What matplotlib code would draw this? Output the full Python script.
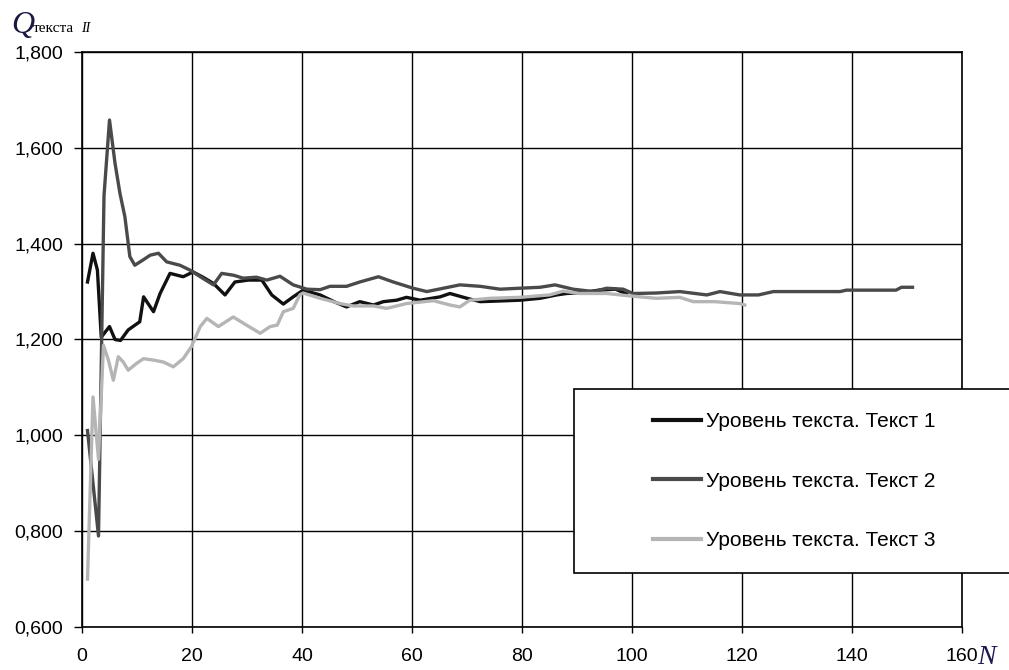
import matplotlib

matplotlib.use("Agg")
import matplotlib.pyplot as plt
from matplotlib.patches import Rectangle
from matplotlib.ticker import FuncFormatter

# Series
n_text1 = [1, 2, 2.8, 3.5, 5, 6, 7, 8.4, 10.5, 11.2,
           13, 14.2, 16, 18.4, 20.2, 22, 23.9, 26, 27.8, 30.2,
           32.7, 34.5, 36.6, 38.4, 40.2, 43.3, 46, 48.1, 50.5, 53,
           54.8, 57.2, 59, 61.5, 65.1, 66.9, 70, 72.4, 75, 79.6,
           83.3, 86.3, 88.1, 91, 94, 97, 99]
q_text1 = [1.32, 1.38, 1.345, 1.205, 1.227, 1.200, 1.198, 1.22, 1.237, 1.289,
           1.258, 1.296, 1.338, 1.331, 1.341, 1.330, 1.317, 1.293, 1.320, 1.324,
           1.324, 1.293, 1.274, 1.289, 1.303, 1.293, 1.278, 1.268, 1.279, 1.272,
           1.279, 1.282, 1.288, 1.282, 1.289, 1.296, 1.286, 1.279, 1.280, 1.282,
           1.286, 1.293, 1.296, 1.298, 1.303, 1.305, 1.295]

n_text2 = [1, 2, 3, 4, 5, 6, 6.9, 7.8, 8.7, 9.6,
           11.1, 12.4, 13.9, 15.4, 17.8, 19.6, 21.5, 23.9, 25.4, 27.6,
           29.3, 31.7, 33.6, 36, 38.4, 40.9, 43.3, 45.1, 48.1, 50.5,
           53.9, 56.6, 60.2, 62.7, 65.7, 68.7, 72.4, 76, 79.6, 83.3,
           86, 89.3, 93, 95.4, 98.4, 100.2, 104.4, 108.7, 113.6, 116,
           119.6, 123, 125.7, 137.8, 139, 148, 149, 151]
q_text2 = [1.01, 0.90, 0.79, 1.50, 1.658, 1.568, 1.505, 1.456, 1.373, 1.355,
           1.366, 1.376, 1.380, 1.362, 1.355, 1.345, 1.331, 1.314, 1.338, 1.334,
           1.328, 1.330, 1.324, 1.332, 1.314, 1.305, 1.304, 1.311, 1.311, 1.320,
           1.331, 1.320, 1.307, 1.300, 1.307, 1.314, 1.311, 1.305, 1.307, 1.309,
           1.314, 1.305, 1.300, 1.307, 1.305, 1.296, 1.297, 1.300, 1.293, 1.300,
           1.293, 1.293, 1.300, 1.300, 1.303, 1.303, 1.309, 1.309]

n_text3 = [1, 2, 3, 3.9, 4.8, 5.7, 6.6, 7.5, 8.4, 9.9,
           11.2, 13, 14.8, 16.6, 18.4, 19.9, 21.5, 22.7, 24.8, 27.5,
           29.9, 32.4, 34.2, 35.5, 36.6, 38.4, 39.6, 40.2, 43.3, 46.9,
           49.3, 53, 55.4, 59, 63.9, 66.9, 68.7, 70.5, 74.2, 79.6,
           85, 87.5, 90.5, 95.4, 99.6, 104.4, 108.7, 111.1, 115, 119.6,
           120.5]
q_text3 = [0.70, 1.08, 0.95, 1.188, 1.157, 1.115, 1.164, 1.153, 1.136, 1.150,
           1.160, 1.157, 1.153, 1.143, 1.160, 1.185, 1.227, 1.244, 1.227, 1.247,
           1.230, 1.213, 1.227, 1.230, 1.258, 1.265, 1.293, 1.297, 1.286, 1.275,
           1.270, 1.270, 1.265, 1.275, 1.281, 1.272, 1.268, 1.282, 1.286, 1.288,
           1.293, 1.301, 1.296, 1.296, 1.291, 1.286, 1.288, 1.279, 1.279, 1.275,
           1.272]

labels = ["Уровень текста. Текст 1", "Уровень текста. Текст 2", "Уровень текста. Текст 3"]
colors = ["#111111", "#4a4a4a", "#b5b5b5"]

x_ticks = [0, 20, 40, 60, 80, 100, 120, 140, 160]
y_ticks = [0.6, 0.8, 1.0, 1.2, 1.4, 1.6, 1.8]

plt.rcParams.update({
    "font.family": "Liberation Sans",
    "font.size": 14,
})

fig = plt.figure(figsize=(10.09, 6.70), dpi=100)
W, H = 1009, 670
ax = fig.add_axes([82 / W, 1 - 627 / H, (962 - 82) / W, (627 - 52) / H])

series = [(n_text1, q_text1), (n_text2, q_text2), (n_text3, q_text3)]
handles = []
for (xs, ys), lab, col in zip(series, labels, colors):
    (ln,) = ax.plot(xs, ys, color=col, linewidth=2.4, label=lab,
                    solid_joinstyle="round", zorder=3)
    handles.append(ln)

ax.set_xlim(0, 160)
ax.set_ylim(0.6, 1.8)
ax.set_xticks(x_ticks)
ax.set_yticks(y_ticks)
ax.yaxis.set_major_formatter(FuncFormatter(lambda v, _: f"{v:.3f}".replace(".", ",")))
ax.grid(True, color="black", linewidth=1.0, zorder=1)
for sp in ax.spines.values():
    sp.set_linewidth(1.2)
ax.tick_params(axis="y", direction="out", length=5.5, width=1.0, pad=8, labelsize=14)
ax.tick_params(axis="x", direction="out", length=4, width=1.0, pad=11, labelsize=14)

# axis titles
fig.text(11 / W, 1 - 33 / H, "Q", family="Liberation Serif", style="italic",
         fontsize=23, color="#1a1a40")
fig.text(33 / W, 1 - 32 / H, "текста", family="Liberation Serif", fontsize=11)
fig.text(81 / W, 1 - 32 / H, "II", family="Liberation Serif", style="italic", fontsize=10)
fig.text(977 / W, 1 - 664 / H, "N", family="Liberation Serif", style="italic",
         fontsize=20, color="#1a1a50")

# legend box (runs past the right edge of the image like the original)
fig.patches.append(Rectangle((574 / W, 1 - 573 / H), 450 / W, 184 / H,
                             transform=fig.transFigure, facecolor="white",
                             edgecolor="black", linewidth=1.2, zorder=5))
leg = fig.legend(handles, labels, loc="upper left",
                 bbox_to_anchor=(653 / W, 1 - 412 / H), frameon=False,
                 borderpad=0, borderaxespad=0, handlelength=2.3,
                 handletextpad=0.25, labelspacing=1.95, fontsize=15)
leg.set_zorder(6)
for ln in leg.get_lines():
    ln.set_linewidth(3)

fig.savefig("out.png", dpi=100)
